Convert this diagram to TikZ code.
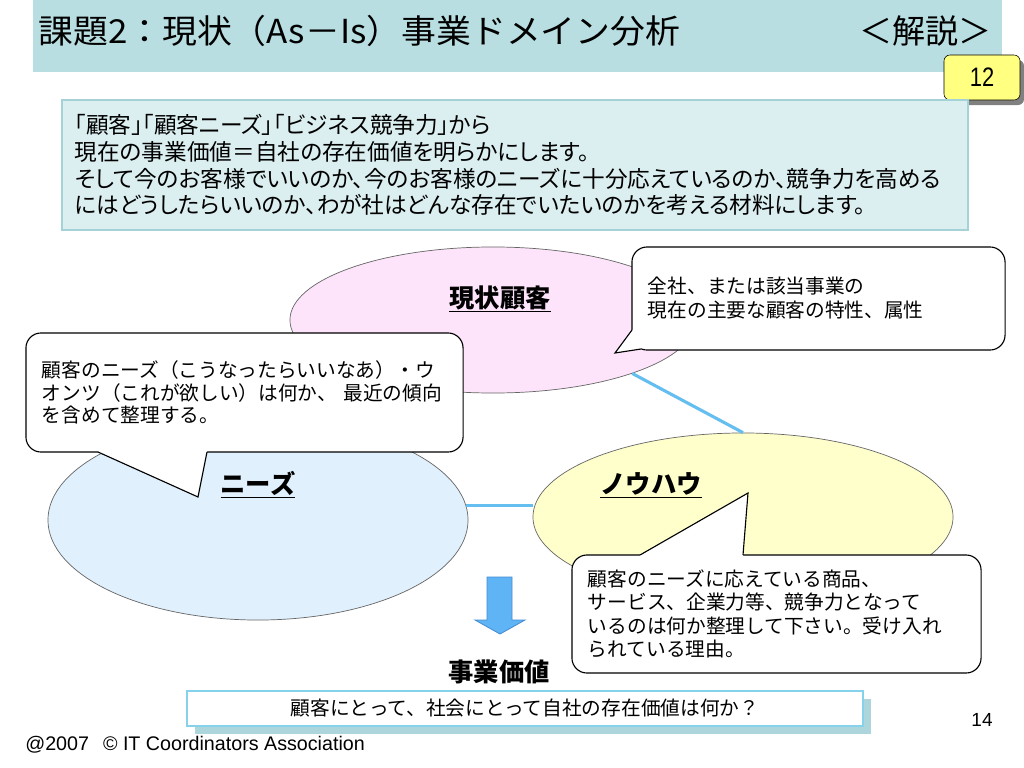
\documentclass[tikz,border=0pt]{standalone}
\usepackage{fontspec}
\setmainfont{Noto Sans CJK JP}
\newfontfamily\latinfont{Liberation Sans}
\usetikzlibrary{shapes,positioning,shadows,calc}

\definecolor{titleteal}{RGB}{184,222,225}
\definecolor{boxfill}{RGB}{219,238,240}
\definecolor{boxedge}{RGB}{165,210,214}
\definecolor{custpink}{RGB}{253,228,250}
\definecolor{needblue}{RGB}{224,240,252}
\definecolor{knowyellow}{RGB}{255,255,204}
\definecolor{linkblue}{RGB}{100,190,240}
\definecolor{arrowblue}{RGB}{95,180,245}
\definecolor{arrowedge}{RGB}{70,140,210}
\definecolor{tagyellow}{RGB}{255,255,128}
\definecolor{qedge}{RGB}{135,210,235}
\definecolor{qshadow}{RGB}{172,214,220}

\begin{document}
\begin{tikzpicture}[
    x=0.025cm, y=-0.025cm,
    area/.style={ellipse, draw=gray!80!black, line width=0.5pt, inner sep=0pt},
    tag/.style={font=\bfseries\fontsize{18}{20}\selectfont},
    callout/.style={rectangle, draw, fill=white, rounded corners=3.75mm, line width=0.8pt, inner xsep=4mm, inner ysep=0pt, align=left},
    pointer/.style={draw, line width=0.8pt, line join=miter},
    link/.style={draw=linkblue, line width=2.2pt}
]
\useasboundingbox (0,0) rectangle (1024,768);
\fill[white] (0,0) rectangle (1024,768);

% Title
\fill[titleteal] (33,0) rectangle (1002,72);
\node[anchor=west, inner sep=0pt, font=\fontsize{23.5}{26}\selectfont] (title) at (38,31) {\scalebox{1.055}[1]{課題2：現状（As－Is）事業ドメイン分析}};
\node[anchor=east, inner sep=0pt, font=\fontsize{23.5}{26}\selectfont] (kaisetsu) at (992,31) {＜解説＞};
\node[draw, fill=tagyellow, rounded corners=1.5mm, minimum width=19mm, minimum height=11.25mm, drop shadow={shadow xshift=1mm, shadow yshift=-1.25mm, fill=gray, opacity=1}, font=\latinfont\fontsize{19}{20}\selectfont] (page) at (982,77.5) {\scalebox{0.82}[1]{12}};

% Intro
\node[draw=boxedge, line width=1.5pt, fill=boxfill, minimum height=32.5mm, text width=220mm, inner xsep=3.25mm, align=left, font={\fontsize{16.1}{19.1}\selectfont\addfontfeatures{RawFeature=+palt}}] (intro) at (515,165) {「顧客」「顧客ニーズ」「ビジネス競争力」から\\現在の事業価値＝自社の存在価値を明らかにします。\\そして今のお客様でいいのか、今のお客様のニーズに十分応えているのか、競争力を高める\\にはどうしたらいいのか、わが社はどんな存在でいたいのかを考える材料にします。};

% Areas
\node[area, fill=custpink, minimum width=101.5mm, minimum height=36.5mm] (cust) at (493,320) {};
\node[area, fill=needblue, minimum width=105mm, minimum height=50mm] (needs) at (258,520) {};
\node[area, fill=knowyellow, minimum width=105mm, minimum height=42mm] (know) at (743,517) {};

\draw[link] (cust.-21) -- (know.north);
\draw[link] (needs.4) -- (needs.4 -| know.west);

\node[tag] (custlabel) at (500,299) {\underline{現状顧客}};
\node[tag] (needslabel) at (258,485) {\underline{ニーズ}};
\node[tag] (knowlabel) at (651,485) {\underline{ノウハウ}};

% Callouts
\node[callout, minimum height=29.75mm, text width=101.25mm, font=\fontsize{14}{16}\selectfont] (cneeds) at (244.5,392.5) {顧客のニーズ（こうなったらいいなあ）・ウ\\オンツ（これが欲しい）は何か、 最近の傾向\\を含めて整理する。};
\fill[white] (98,452) -- (198,497) -- (207,452) -- (207,447) -- (98,447) -- cycle;
\draw[pointer] (98,452) -- (198,497) -- (207,452);

\node[callout, minimum height=25.75mm, text width=85.25mm, font=\fontsize{14}{17}\selectfont] (ccust) at (818.5,298.5) {全社、または該当事業の\\現在の主要な顧客の特性、属性};
\fill[white] (632,330) -- (615,353) -- (641,349) -- (646,338) -- (640,328) -- cycle;
\draw[pointer] (632,330) -- (615,353) -- (641,349);

\node[callout, minimum height=29.5mm, text width=94.25mm, font=\fontsize{14}{16.7}\selectfont] (cknow) at (776.5,614) {顧客のニーズに応えている商品、\\サービス、企業力等、競争力となって\\いるのは何か整理して下さい。受け入れ\\られている理由。};
\fill[white] (640,555) -- (748,493) -- (743,555) -- (743,560) -- (640,560) -- cycle;
\draw[pointer] (640,555) -- (748,493) -- (743,555);

% Result
\filldraw[fill=arrowblue, draw=arrowedge, line width=0.6pt] (487,577) -- (512,577) -- (512,620) -- (525,620) -- (500,634) -- (475,620) -- (487,620) -- cycle;
\node[font=\bfseries\fontsize{18}{20}\selectfont] (value) at (499,672) {事業価値};
\node[draw=qedge, fill=white, line width=1pt, minimum width=169mm, minimum height=8.75mm, drop shadow={shadow xshift=2mm, shadow yshift=-2mm, fill=qshadow, opacity=1}, font=\fontsize{14}{16}\selectfont] (question) at (525,708.5) {顧客にとって、社会にとって自社の存在価値は何か？};

% Footer
\node[anchor=west, inner sep=0pt, font=\latinfont\fontsize{14}{16}\selectfont] (copy) at (25,745) {@2007\hspace{3.5mm}© IT Coordinators Association};
\node[font=\latinfont\fontsize{13.5}{15}\selectfont] (pageno) at (982,720) {14};

\end{tikzpicture}
\end{document}
